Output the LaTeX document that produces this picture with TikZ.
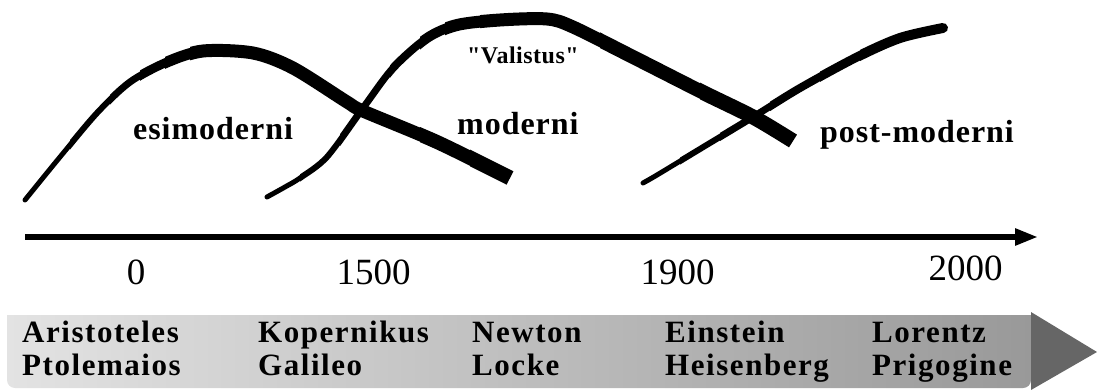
\documentclass[tikz,border=0pt]{standalone}
\usepackage{fontspec}
\setmainfont{Liberation Serif}
\newfontfamily\labfont[LetterSpace=5]{Liberation Serif}
\newfontfamily\curvefont[LetterSpace=3]{Liberation Serif}
\newfontfamily\valfont[LetterSpace=2]{Liberation Serif}
\usetikzlibrary{arrows.meta}
\definecolor{headgray}{HTML}{666666}
\tikzset{
  curvelab/.style={font=\curvefont\bfseries\fontsize{32}{38}\selectfont, anchor=base west, inner sep=0pt},
  vallab/.style={font=\valfont\bfseries\fontsize{24}{28}\selectfont, anchor=base west, inner sep=0pt},
  yearlab/.style={font=\fontsize{37}{44}\selectfont, anchor=base, inner sep=0pt},
  namelab/.style={font=\labfont\bfseries\fontsize{31}{36}\selectfont, anchor=base west, inner sep=0pt},
  curveline/.style={draw=black, line join=round}
}
\newcommand\curveApts{(25,200) (60,157) (97,113) (130,82) (167,62) (203,51) (253,53) (293,68) (347,102) (363,111) (437,142) (510,178)}
\newcommand\curveBpts{(267,197) (285,187) (300,178) (327,157) (363,108) (393,68) (427,38) (457,25) (500,20) (547,19) (573,27) (633,57) (700,91) (753,117) (793,141)}
\newcommand\curveCpts{(643,183) (657,175) (700,149) (753,117) (800,88) (857,57) (900,38) (943,28)}
\begin{document}
\begin{tikzpicture}[x=1pt,y=-1pt]
\useasboundingbox (0,0) rectangle (1097,390);
% curve 1 (esimoderni)
\foreach \xs/\xe/\w/\cp in {0/71/5/round,70/111/6/butt,110/141/7/butt,140/166/9/butt,165/191/11/butt,190/421/13/butt,420/471/14/butt,470/1100/15/butt}{
  \begin{scope}
    \clip (\xs,-20) rectangle (\xe,420);
    \draw[curveline, line width=\w pt, line cap=\cp] plot[smooth] coordinates {\curveApts};
  \end{scope}
}
% curve 2 (moderni)
\foreach \xs/\xe/\w/\cp in {0/301/5/round,300/341/6/butt,340/391/7/butt,390/421/8/butt,420/446/10/butt,445/481/12/butt,480/601/13/butt,600/701/14/butt,700/1100/15/butt}{
  \begin{scope}
    \clip (\xs,-20) rectangle (\xe,420);
    \draw[curveline, line width=\w pt, line cap=\cp] plot[smooth] coordinates {\curveBpts};
  \end{scope}
}
% curve 3 (post-moderni)
\foreach \xs/\xe/\w in {0/681/5,680/721/6,720/771/7,770/821/8,820/861/9,860/1100/10}{
  \begin{scope}
    \clip (\xs,-20) rectangle (\xe,420);
    \draw[curveline, line width=\w pt, line cap=round] plot[smooth] coordinates {\curveCpts};
  \end{scope}
}
% curve labels
\node[curvelab] (esim) at (133,140) {esimoderni};
\node[curvelab] (mod) at (457,135) {moderni};
\node[vallab] (val) at (467,64) {"Valistus"};
\node[curvelab] (post) at (820,143) {post-moderni};
% time axis
\coordinate (axs) at (25,237);
\coordinate (axe) at (1038,237);
\draw[line width=5.5pt, -{Triangle[length=23pt,width=16pt]}] (axs) -- (axe);
\node[yearlab] (y0) at (136,284) {0};
\node[yearlab] (y1500) at (373.5,284) {1500};
\node[yearlab] (y1900) at (677.5,284) {1900};
\node[yearlab] (y2000) at (965.5,280) {2000};
% banner
\shade[left color=gray!22, right color=gray!80] (7,315) -- (1031,315) [rounded corners=8pt] -- (1031,388) -- (7,388) [sharp corners] -- cycle;
\fill[headgray] (1031,312) -- (1097,352) -- (1031,390) -- cycle;
% names
\node[namelab] (aris) at (22,342) {Aristoteles};
\node[namelab] (ptol) at (22,375) {Ptolemaios};
\node[namelab] (kop) at (258,342) {Kopernikus};
\node[namelab] (gal) at (258,375) {Galileo};
\node[namelab] (newt) at (472,342) {Newton};
\node[namelab] (locke) at (472,375) {Locke};
\node[namelab] (ein) at (665,342) {Einstein};
\node[namelab] (heis) at (665,375) {Heisenberg};
\node[namelab] (lor) at (872,342) {Lorentz};
\node[namelab] (prig) at (872,375) {Prigogine};
\end{tikzpicture}
\end{document}
